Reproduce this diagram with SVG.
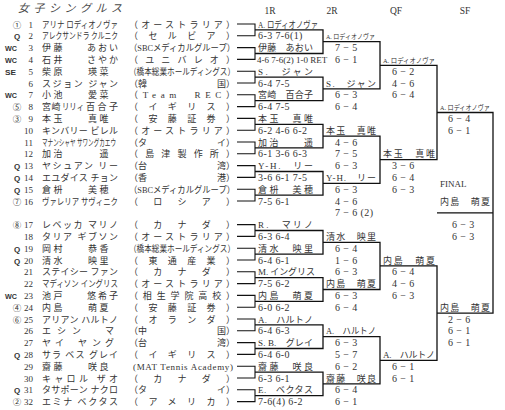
<svg xmlns="http://www.w3.org/2000/svg" width="505" height="410" viewBox="0 0 505 410">
<style>
text{font-family:"Liberation Serif","Noto Sans CJK JP",serif;fill:#333;font-size:9px}
.title{font-family:"Noto Sans CJK JP",sans-serif;font-size:11px;font-style:italic;fill:#4a4a4a}
.hd{font-size:9.5px;text-anchor:middle}
.mk{font-family:"Liberation Sans",sans-serif;font-weight:bold;font-size:8px}
.q{text-anchor:middle}
.cd{font-family:"Noto Sans CJK JP",sans-serif;font-size:8.5px;text-anchor:middle}
.no{text-anchor:end}
.e{text-anchor:end}
.sc{font-size:10px;letter-spacing:0.4px}
.sm{font-size:7px}
.ln{fill:none;stroke:#111;stroke-width:1.3}
.tk{fill:none;stroke:#111;stroke-width:1.1}
</style>
<rect width="505" height="410" fill="#fff"/>
<text class="title" x="18" y="12" textLength="104" lengthAdjust="spacing">女子シングルス</text>
<g id="headers">
<text class="hd" x="270" y="13.5">1R</text>
<text class="hd" x="332" y="13.5">2R</text>
<text class="hd" x="396" y="13.5">QF</text>
<text class="hd" x="465" y="13.5">SF</text>
</g>
<g id="players">
<g id="p1"><text class="cd" x="17" y="27.5">①</text><text class="no" x="33" y="27.5">1</text><text x="42" y="27.5" font-size="8" textLength="76" lengthAdjust="spacingAndGlyphs">アリナ ロディオノヴァ</text><text x="129" y="27.5" textLength="106" lengthAdjust="spacing">（オーストラリア）</text></g>
<g id="p2"><text class="mk q" x="17" y="39.3">Q</text><text class="no" x="33" y="39.3">2</text><text x="42" y="39.3" font-size="7.5" textLength="76" lengthAdjust="spacingAndGlyphs">アレクサンドラ クルニク</text><text x="129" y="39.3" textLength="106" lengthAdjust="spacing">（セルビア）</text></g>
<g id="p3"><text class="mk" x="5" y="51.1" textLength="12" lengthAdjust="spacingAndGlyphs">WC</text><text class="no" x="33" y="51.1">3</text><text x="42 53.5" y="51.1">伊藤</text><text x="87 98 109" y="51.1">あおい</text><text x="129" y="51.1" textLength="106" lengthAdjust="spacingAndGlyphs">（SBCメディカルグループ）</text></g>
<g id="p4"><text class="mk" x="5" y="62.9" textLength="12" lengthAdjust="spacingAndGlyphs">WC</text><text class="no" x="33" y="62.9">4</text><text x="42 53.5" y="62.9">石井</text><text x="87 98 109" y="62.9">さやか</text><text x="129" y="62.9" textLength="106" lengthAdjust="spacing">（ユニバレオ）</text></g>
<g id="p5"><text class="mk" x="5" y="74.7" textLength="11" lengthAdjust="spacingAndGlyphs">SE</text><text class="no" x="33" y="74.7">5</text><text x="42 53.5" y="74.7">柴原</text><text x="88 99.5" y="74.7">瑛菜</text><text x="129" y="74.7" textLength="106" lengthAdjust="spacingAndGlyphs">（橋本総業ホールディングス）</text></g>
<g id="p6"><text class="no" x="33" y="86.5">6</text><text x="42" y="86.5" textLength="76" lengthAdjust="spacing">スジョン ジャン</text><text x="129" y="86.5">（韓</text><text class="e" x="235" y="86.5">国）</text></g>
<g id="p7"><text class="mk" x="5" y="98.3" textLength="12" lengthAdjust="spacingAndGlyphs">WC</text><text class="no" x="33" y="98.3">7</text><text x="42 53.5" y="98.3">小池</text><text x="88 99.5" y="98.3">愛菜</text><text x="129" y="98.3" textLength="106" lengthAdjust="spacing">（Team　REC）</text></g>
<g id="p8"><text class="cd" x="17" y="110.1">⑤</text><text class="no" x="33" y="110.1">8</text><text x="42 51.5" y="110.1">宮崎</text><text x="62" y="110.1" font-size="7.5" textLength="22" lengthAdjust="spacingAndGlyphs">リリィ</text><text x="86 97.5 109" y="110.1">百合子</text><text x="129" y="110.1" textLength="106" lengthAdjust="spacing">（イギリス）</text></g>
<g id="p9"><text class="cd" x="17" y="121.9">③</text><text class="no" x="33" y="121.9">9</text><text x="42 53.5" y="121.9">本玉</text><text x="88 99.5" y="121.9">真唯</text><text x="129" y="121.9" textLength="106" lengthAdjust="spacing">（安藤証券）</text></g>
<g id="p10"><text class="no" x="33" y="133.7">10</text><text x="42" y="133.7" textLength="76" lengthAdjust="spacing">キンバリー ビレル</text><text x="129" y="133.7" textLength="106" lengthAdjust="spacing">（オーストラリア）</text></g>
<g id="p11"><text class="no" x="33" y="145.5">11</text><text x="42" y="145.5" font-size="6" textLength="74" lengthAdjust="spacingAndGlyphs">マナンシャヤ サワングカエウ</text><text x="129" y="145.5">（タ</text><text class="e" x="235" y="145.5">イ）</text></g>
<g id="p12"><text class="no" x="33" y="157.3">12</text><text x="42 53.5" y="157.3">加治</text><text x="99.5" y="157.3">遥</text><text x="129" y="157.3" textLength="106" lengthAdjust="spacing">（島津製作所）</text></g>
<g id="p13"><text class="mk q" x="17" y="169.1">Q</text><text class="no" x="33" y="169.1">13</text><text x="42" y="169.1" textLength="76" lengthAdjust="spacing">ヤシュアン リー</text><text x="129" y="169.1">（台</text><text class="e" x="235" y="169.1">湾）</text></g>
<g id="p14"><text class="mk q" x="17" y="180.9">Q</text><text class="no" x="33" y="180.9">14</text><text x="42" y="180.9" textLength="76" lengthAdjust="spacing">エユダイス チョン</text><text x="129" y="180.9">（香</text><text class="e" x="235" y="180.9">港）</text></g>
<g id="p15"><text class="mk q" x="17" y="192.7">Q</text><text class="no" x="33" y="192.7">15</text><text x="42 53.5" y="192.7">倉枡</text><text x="88 99.5" y="192.7">美穂</text><text x="129" y="192.7" textLength="106" lengthAdjust="spacingAndGlyphs">（SBCメディカルグループ）</text></g>
<g id="p16"><text class="cd" x="17" y="204.5">⑦</text><text class="no" x="33" y="204.5">16</text><text x="42" y="204.5" font-size="8" textLength="76" lengthAdjust="spacingAndGlyphs">ヴァレリア サヴィニク</text><text x="129" y="204.5" textLength="106" lengthAdjust="spacing">（ロシア）</text></g>
<g id="p17"><text class="cd" x="17" y="228.1">⑧</text><text class="no" x="33" y="228.1">17</text><text x="42" y="228.1" textLength="76" lengthAdjust="spacing">レベッカ マリノ</text><text x="129" y="228.1" textLength="106" lengthAdjust="spacing">（カナダ）</text></g>
<g id="p18"><text class="no" x="33" y="239.9">18</text><text x="42" y="239.9" textLength="76" lengthAdjust="spacing">タリア ギブソン</text><text x="129" y="239.9" textLength="106" lengthAdjust="spacing">（オーストラリア）</text></g>
<g id="p19"><text class="mk q" x="17" y="251.7">Q</text><text class="no" x="33" y="251.7">19</text><text x="42 53.5" y="251.7">岡村</text><text x="88 99.5" y="251.7">恭香</text><text x="129" y="251.7" textLength="106" lengthAdjust="spacingAndGlyphs">（橋本総業ホールディングス）</text></g>
<g id="p20"><text class="mk q" x="17" y="263.5">Q</text><text class="no" x="33" y="263.5">20</text><text x="42 53.5" y="263.5">清水</text><text x="88 99.5" y="263.5">映里</text><text x="129" y="263.5" textLength="106" lengthAdjust="spacing">（東通産業）</text></g>
<g id="p21"><text class="no" x="33" y="275.3">21</text><text x="42" y="275.3" textLength="76" lengthAdjust="spacing">ステイシー ファン</text><text x="129" y="275.3" textLength="106" lengthAdjust="spacing">（カナダ）</text></g>
<g id="p22"><text class="no" x="33" y="287.1">22</text><text x="42" y="287.1" font-size="8" textLength="76" lengthAdjust="spacingAndGlyphs">マディソン イングリス</text><text x="129" y="287.1" textLength="106" lengthAdjust="spacing">（オーストラリア）</text></g>
<g id="p23"><text class="mk" x="5" y="298.9" textLength="12" lengthAdjust="spacingAndGlyphs">WC</text><text class="no" x="33" y="298.9">23</text><text x="42 53.5" y="298.9">池戸</text><text x="87 98 109" y="298.9">悠希子</text><text x="129" y="298.9" textLength="106" lengthAdjust="spacing">（相生学院高校）</text></g>
<g id="p24"><text class="cd" x="17" y="310.7">④</text><text class="no" x="33" y="310.7">24</text><text x="42 53.5" y="310.7">内島</text><text x="88 99.5" y="310.7">萌夏</text><text x="129" y="310.7" textLength="106" lengthAdjust="spacing">（安藤証券）</text></g>
<g id="p25"><text class="cd" x="17" y="322.5">⑥</text><text class="no" x="33" y="322.5">25</text><text x="42" y="322.5" textLength="76" lengthAdjust="spacing">アリアン ハルトノ</text><text x="129" y="322.5" textLength="106" lengthAdjust="spacing">（オランダ）</text></g>
<g id="p26"><text class="no" x="33" y="334.3">26</text><text x="42 57 72 105" y="334.3">エシンマ</text><text x="129" y="334.3">（中</text><text class="e" x="235" y="334.3">国）</text></g>
<g id="p27"><text class="no" x="33" y="346.1">27</text><text x="42 55 78 92 105" y="346.1">ヤイヤング</text><text x="129" y="346.1">（台</text><text class="e" x="235" y="346.1">湾）</text></g>
<g id="p28"><text class="mk q" x="17" y="357.9">Q</text><text class="no" x="33" y="357.9">28</text><text x="42" y="357.9" textLength="76" lengthAdjust="spacing">サラ ベス グレイ</text><text x="129" y="357.9" textLength="106" lengthAdjust="spacing">（イギリス）</text></g>
<g id="p29"><text class="no" x="33" y="369.7">29</text><text x="42 53.5" y="369.7">齋藤</text><text x="88 99.5" y="369.7">咲良</text><text x="133" y="369.7" textLength="100" lengthAdjust="spacing">(MAT Tennis Academy)</text></g>
<g id="p30"><text class="no" x="33" y="381.5">30</text><text x="42" y="381.5" textLength="76" lengthAdjust="spacing">キャロル ザオ</text><text x="129" y="381.5" textLength="106" lengthAdjust="spacing">（カナダ）</text></g>
<g id="p31"><text class="mk q" x="17" y="393.3">Q</text><text class="no" x="33" y="393.3">31</text><text x="42" y="393.3" textLength="76" lengthAdjust="spacing">タサポーン ナクロ</text><text x="129" y="393.3">（タ</text><text class="e" x="235" y="393.3">イ）</text></g>
<g id="p32"><text class="cd" x="17" y="405.1">②</text><text class="no" x="33" y="405.1">32</text><text x="42" y="405.1" textLength="76" lengthAdjust="spacing">エミナ ベクタス</text><text x="129" y="405.1" textLength="106" lengthAdjust="spacing">（アメリカ）</text></g>
</g>
<g id="connectors">
<path class="tk" d="M237 24H255V35.8H237M237 47.6H255V59.4H237M237 71.2H255V83H237M237 94.8H255V106.6H237M237 118.4H255V130.2H237M237 142H255V153.8H237M237 165.6H255V177.4H237M237 189.2H255V201H237M237 224.6H255V236.4H237M237 248.2H255V260H237M237 271.8H255V283.6H237M237 295.4H255V307.2H237M237 319H255V330.8H237M237 342.6H255V354.4H237M237 366.2H255V378H237M237 389.8H255V401.6H237"/>
<path class="ln" d="M255 29.9H323V53.5H255M255 77.1H323V100.7H255M255 124.3H323V147.9H255M255 171.5H323V195.1H255M255 230.5H323V254.1H255M255 277.7H323V301.3H255M255 324.9H323V348.5H255M255 372.1H323V395.7H255"/>
<path class="ln" d="M323 41.7H380V88.9H323M323 136.1H380V183.3H323M323 242.3H380V289.5H323M323 336.7H380V383.9H323"/>
<path class="ln" d="M380 65.3H437V159.7H380M380 265.9H437V360.3H380"/>
<path class="ln" d="M437 112.5H493V313.1H437M437 212.8H493"/>
</g>
<g id="r1">
<g id="r1-1"><text x="258" y="27.5" font-size="8" textLength="60" lengthAdjust="spacingAndGlyphs">A. ロディオノヴァ</text><text class="sc" x="258" y="39.3">6-3 7-6(1)</text></g>
<g id="r1-2"><text x="258" y="51.1" textLength="55" lengthAdjust="spacing">伊藤　あおい</text><text x="257" y="62.9" font-size="8.5">4-6 7-6(2) 1-0 RET</text></g>
<g id="r1-3"><text x="258" y="74.7" textLength="55" lengthAdjust="spacing">S.　ジャン</text><text class="sc" x="258" y="86.5">6-4 7-5</text></g>
<g id="r1-4"><text x="258" y="98.3" textLength="55" lengthAdjust="spacing">宮崎　百合子</text><text class="sc" x="258" y="110.1">6-4 7-5</text></g>
<g id="r1-5"><text x="258" y="121.9" textLength="55" lengthAdjust="spacing">本玉　真唯</text><text class="sc" x="258" y="133.7">6-2 4-6 6-2</text></g>
<g id="r1-6"><text x="258" y="145.5" textLength="55" lengthAdjust="spacing">加治　　遥</text><text class="sc" x="258" y="157.3">6-1 3-6 6-3</text></g>
<g id="r1-7"><text x="258" y="169.1" textLength="55" lengthAdjust="spacing">Y-H.　リー</text><text class="sc" x="258" y="180.9">3-6 6-1 7-5</text></g>
<g id="r1-8"><text x="258" y="192.7" textLength="55" lengthAdjust="spacing">倉枡　美穂</text><text class="sc" x="258" y="204.5">7-5 6-1</text></g>
<g id="r1-9"><text x="258" y="228.1" textLength="55" lengthAdjust="spacing">R.　マリノ</text><text class="sc" x="258" y="239.9">6-3 6-4</text></g>
<g id="r1-10"><text x="258" y="251.7" textLength="55" lengthAdjust="spacing">清水　映里</text><text class="sc" x="258" y="263.5">6-4 6-1</text></g>
<g id="r1-11"><text x="258" y="275.3" textLength="57" lengthAdjust="spacing">M. イングリス</text><text class="sc" x="258" y="287.1">7-5 6-2</text></g>
<g id="r1-12"><text x="258" y="298.9" textLength="55" lengthAdjust="spacing">内島　萌夏</text><text class="sc" x="258" y="310.7">6-0 6-2</text></g>
<g id="r1-13"><text x="258" y="322.5" textLength="55" lengthAdjust="spacing">A.　ハルトノ</text><text class="sc" x="258" y="334.3">6-4 6-3</text></g>
<g id="r1-14"><text x="258" y="346.1" textLength="55" lengthAdjust="spacing">S. B.　グレイ</text><text class="sc" x="258" y="357.9">6-4 6-0</text></g>
<g id="r1-15"><text x="258" y="369.7" textLength="55" lengthAdjust="spacing">齋藤　咲良</text><text class="sc" x="258" y="381.5">6-3 6-1</text></g>
<g id="r1-16"><text x="258" y="393.3" textLength="55" lengthAdjust="spacing">E.　ベクタス</text><text class="sc" x="258" y="405.1">7-6(4) 6-2</text></g>
</g>
<g id="r2">
<g id="r2-1"><text class="sm" x="326" y="39.3" textLength="49" lengthAdjust="spacingAndGlyphs">A. ロディオノヴァ</text><text class="sc" x="335" y="51.1">7 − 5</text><text class="sc" x="335" y="62.9">6 − 1</text></g>
<g id="r2-2"><text x="326" y="86.5" textLength="50" lengthAdjust="spacing">S.　ジャン</text><text class="sc" x="335" y="98.3">6 − 3</text><text class="sc" x="335" y="110.1">6 − 4</text></g>
<g id="r2-3"><text x="326" y="133.7" textLength="50" lengthAdjust="spacing">本玉　真唯</text><text class="sc" x="335" y="145.5">4 − 6</text><text class="sc" x="335" y="157.3">7 − 5</text><text class="sc" x="335" y="169.1">6 − 3</text></g>
<g id="r2-4"><text x="326" y="180.9" textLength="50" lengthAdjust="spacing">Y-H.　リー</text><text class="sc" x="335" y="192.7">6 − 3</text><text class="sc" x="335" y="204.5">4 − 6</text><text class="sc" x="335" y="216.3">7 − 6 (2)</text></g>
<g id="r2-5"><text x="326" y="239.9" textLength="50" lengthAdjust="spacing">清水　映里</text><text class="sc" x="335" y="251.7">6 − 4</text><text class="sc" x="335" y="263.5">1 − 6</text><text class="sc" x="335" y="275.3">6 − 3</text></g>
<g id="r2-6"><text x="326" y="287.1" textLength="50" lengthAdjust="spacing">内島　萌夏</text><text class="sc" x="335" y="298.9">6 − 3</text><text class="sc" x="335" y="310.7">6 − 4</text></g>
<g id="r2-7"><text x="326" y="334.3" font-size="8.5" textLength="50" lengthAdjust="spacingAndGlyphs">A.　ハルトノ</text><text class="sc" x="335" y="346.1">6 − 3</text><text class="sc" x="335" y="357.9">5 − 7</text><text class="sc" x="335" y="369.7">6 − 2</text></g>
<g id="r2-8"><text x="326" y="381.5" textLength="50" lengthAdjust="spacing">齋藤　咲良</text><text class="sc" x="335" y="393.3">6 − 4</text><text class="sc" x="335" y="405.1">6 − 1</text></g>
</g>
<g id="qf">
<g id="qf-1"><text class="sm" x="383" y="62.9" textLength="52" lengthAdjust="spacingAndGlyphs">A. ロディオノヴァ</text><text class="sc" x="392" y="74.7">6 − 2</text><text class="sc" x="392" y="86.5">4 − 6</text><text class="sc" x="392" y="98.3">6 − 4</text></g>
<g id="qf-2"><text x="383" y="157.3" textLength="52" lengthAdjust="spacing">本玉　真唯</text><text class="sc" x="392" y="169.1">3 − 6</text><text class="sc" x="392" y="180.9">6 − 4</text><text class="sc" x="392" y="192.7">6 − 3</text></g>
<g id="qf-3"><text x="383" y="263.5" textLength="52" lengthAdjust="spacing">内島　萌夏</text><text class="sc" x="392" y="275.3">6 − 4</text><text class="sc" x="392" y="287.1">4 − 6</text><text class="sc" x="392" y="298.9">6 − 3</text></g>
<g id="qf-4"><text x="383" y="357.9" textLength="52" lengthAdjust="spacing">A.　ハルトノ</text><text class="sc" x="392" y="369.7">6 − 1</text><text class="sc" x="392" y="381.5">6 − 1</text></g>
</g>
<g id="sf">
<g id="sf-1"><text class="sm" x="440" y="110.1" textLength="50" lengthAdjust="spacingAndGlyphs">A. ロディオノヴァ</text><text class="sc" x="448" y="121.9">6 − 4</text><text class="sc" x="448" y="133.7">6 − 1</text></g>
<g id="sf-2"><text x="440" y="310.7" textLength="50" lengthAdjust="spacing">内島　萌夏</text><text class="sc" x="448" y="322.5">2 − 6</text><text class="sc" x="448" y="334.3">6 − 1</text><text class="sc" x="448" y="346.1">6 − 1</text></g>
</g>
<g id="final">
<text x="440" y="186.5" font-size="9.5">FINAL</text>
<text x="440" y="204.5" textLength="50" lengthAdjust="spacing">内島　萌夏</text>
<text class="sc" x="452" y="228.1">6 − 3</text>
<text class="sc" x="452" y="239.9">6 − 3</text>
</g>
</svg>
